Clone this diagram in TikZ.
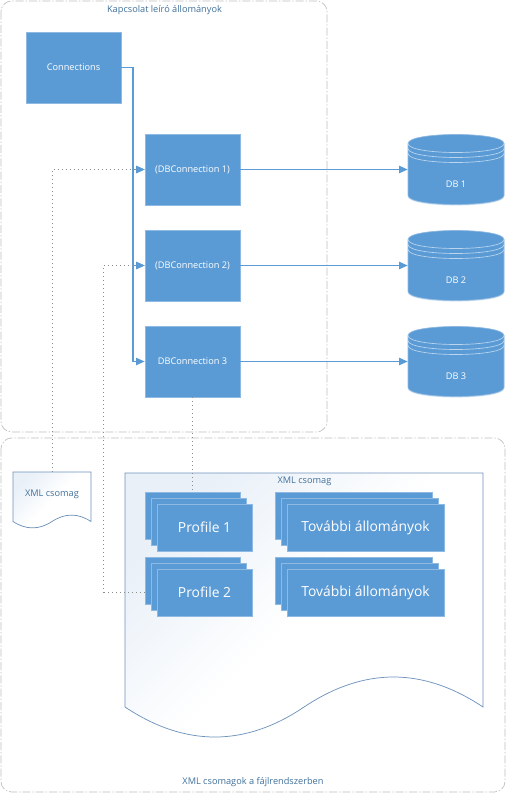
\documentclass[tikz,border=0pt]{standalone}
\usepackage{fontspec}
\setmainfont{Open Sans}
\usetikzlibrary{arrows.meta,shadows,calc}
\definecolor{blk}{HTML}{5B9BD5}
\definecolor{blkedge}{HTML}{8DB9E2}
\definecolor{linec}{HTML}{5B9BD5}
\definecolor{cap}{HTML}{41719C}
\definecolor{docedge}{HTML}{6F93BC}
\definecolor{docfill}{HTML}{E9F0F8}
\definecolor{contedge}{HTML}{BFBFBF}
\definecolor{dotc}{HTML}{8C8C8C}
\tikzset{
  softshadow/.style={drop shadow={shadow xshift=0pt,shadow yshift=-0.8pt,opacity=.22,fill=blk}},
  blockbox/.style={rectangle,fill=blk,draw=blkedge,line width=.5pt,inner sep=0pt,text=white,font=\fontsize{6.9pt}{8pt}\selectfont,minimum width=71.25pt,minimum height=53.25pt,softshadow},
  profilebox/.style={rectangle,fill=blk,draw=blkedge,line width=.5pt,inner sep=0pt,text=white,font=\fontsize{10.4pt}{12pt}\selectfont,minimum width=71.25pt,minimum height=35.5pt,softshadow},
  furtherbox/.style={profilebox,minimum width=117.75pt},
  dbnode/.style={rectangle,inner sep=0pt,text=white,font=\fontsize{6.9pt}{8pt}\selectfont,minimum width=72pt,minimum height=53.25pt},
  dbbody/.style={fill=blk,draw=blkedge,line width=.5pt,softshadow},
  dbline/.style={draw=blkedge!60!white,line width=.5pt},
  container/.style={draw=contedge,line width=.5pt,rounded corners=8pt,dash pattern=on 6pt off 1.5pt on 1pt off 1.5pt},
  captiontext/.style={text=cap,font=\fontsize{6.9pt}{8pt}\selectfont,inner sep=0pt},
  docshape/.style={draw=docedge,line width=.55pt,left color=docfill,right color=white,middle color=white,shading angle=45},
  flow/.style={draw=linec,line width=.9pt,-{Triangle[length=6.5pt,width=5.5pt]}},
  plainflow/.style={draw=linec,line width=.9pt},
  dots/.style={draw=dotc,line width=.5pt,dash pattern=on .75pt off 2.25pt},
  dotsarrow/.style={dots,-{Triangle[length=6.5pt,width=5.5pt,fill=linec,color=linec]}},
}
\begin{document}
\begin{tikzpicture}[x=0.75pt,y=-0.75pt]
\useasboundingbox (0,0) rectangle (510,795);
\fill[white] (0,0) rectangle (510,795);
% containers
\draw[container] (1,1) rectangle (327,432);
\draw[container] (1,438) rectangle (505,792);
\node[captiontext] (captop) at (164.5,10) {Kapcsolat leíró állományok};
\node[captiontext] (capbot) at (253,782) {XML csomagok a fájlrendszerben};
% documents
\path[docshape] (125,473) -- (483,473) -- (483,707)
  .. controls (423,667) and (364,667) .. (304,707)
  .. controls (245,747) and (185,747) .. (125,707) -- cycle;
\path[docshape] (13,472) -- (91,472) -- (91,521.5)
  .. controls (78,513) and (65,513) .. (52,521.5)
  .. controls (39,530) and (26,530) .. (13,521.5) -- cycle;
\node[captiontext] (docsmall) at (52,494) {XML csomag};
\node[captiontext] (docbig) at (304.5,481.5) {XML csomag};
\coordinate (docsmalltop) at (52,472);
% blocks
\node[blockbox] (conns) at (73.5,67.5) {Connections};
\node[blockbox] (dbc1) at (192.5,169.5) {(DBConnection 1)};
\node[blockbox] (dbc2) at (192.5,265.5) {(DBConnection 2)};
\node[blockbox] (dbc3) at (192.5,361.5) {DBConnection 3};
% databases
\foreach \n/\y/\t in {db1/169.5/DB 1,db2/265.5/DB 2,db3/361.5/DB 3}{
  \path[dbbody] (408,\y-26) -- (408,\y+26)
    .. controls (408,\y+38) and (504,\y+38) .. (504,\y+26)
    -- (504,\y-26)
    .. controls (504,\y-38) and (408,\y-38) .. (408,\y-26) -- cycle;
  \foreach \o in {0,5,10}{
    \draw[dbline] (408,\y-26+\o) .. controls (408,\y-14+\o) and (504,\y-14+\o) .. (504,\y-26+\o);
  }
  \node[dbnode] (\n) at (456,\y) {\raisebox{-13.4pt}[0pt][0pt]{\t}};
}
% stacks
\node[profilebox] (p1a) at (192.5,515.5) {};
\node[profilebox] (p1b) at (198.5,521.5) {};
\node[profilebox] (p1c) at (204.5,527.5) {Profile 1};
\node[profilebox] (p2a) at (192.5,580.5) {};
\node[profilebox] (p2b) at (198.5,586.5) {};
\node[profilebox] (p2c) at (204.5,592.5) {Profile 2};
\node[furtherbox] (f1a) at (353.5,515.5) {};
\node[furtherbox] (f1b) at (359.5,521.5) {};
\node[furtherbox] (f1c) at (365.5,527.5) {További állományok};
\node[furtherbox] (f2a) at (353.5,580.5) {};
\node[furtherbox] (f2b) at (359.5,586.5) {};
\node[furtherbox] (f2c) at (365.5,592.5) {További állományok};
% connectors
\coordinate (trunk) at (133,67.5);
\draw[plainflow] (conns.east) -- (trunk);
\draw[flow] (trunk) |- (dbc1.west);
\draw[flow] (trunk) |- (dbc2.west);
\draw[flow] (trunk) |- (dbc3.west);
\draw[flow] (dbc1.east) -- (db1.west);
\draw[flow] (dbc2.east) -- (db2.west);
\draw[flow] (dbc3.east) -- (db3.west);
\draw[dotsarrow] (docsmalltop) |- (dbc1.west);
\coordinate (bend) at (103,592.5);
\draw[dots] (p2a.west |- bend) -- (bend);
\draw[dotsarrow] (bend) |- (dbc2.west);
\draw[dots] (dbc3.south) -- (dbc3.south |- p1a.north);
\end{tikzpicture}
\end{document}
